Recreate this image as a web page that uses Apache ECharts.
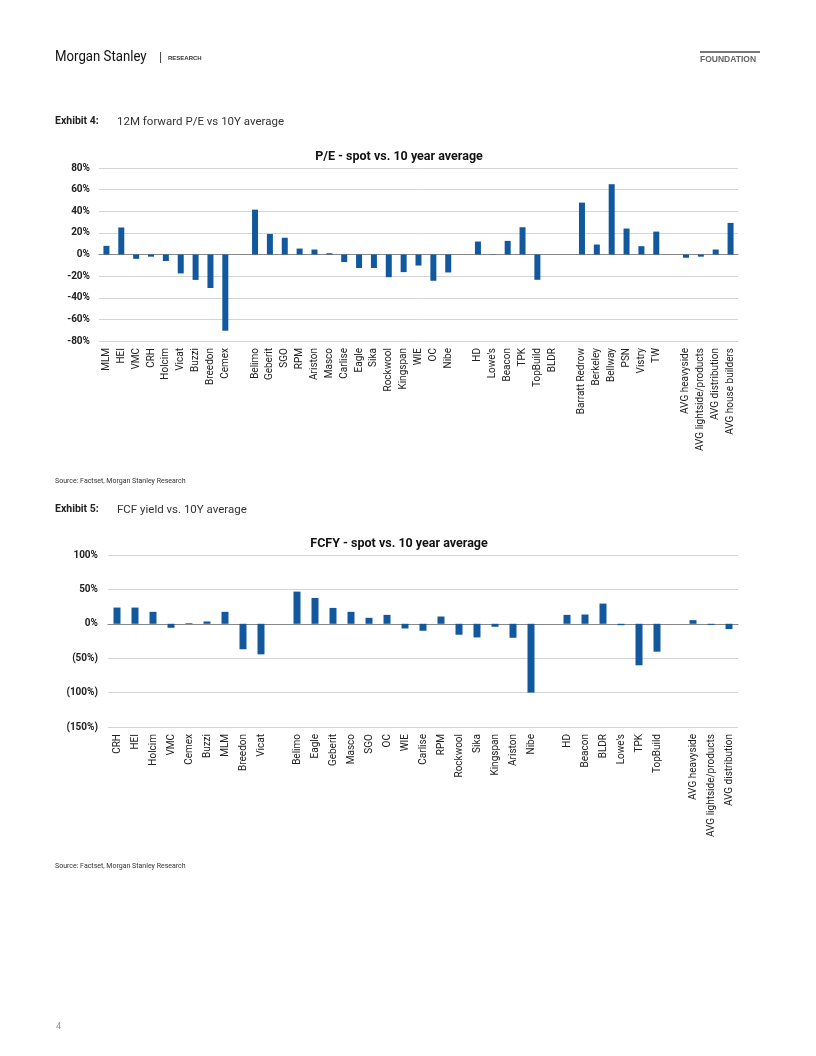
<!DOCTYPE html>
<html><head><meta charset="utf-8">
<script src="https://cdn.jsdelivr.net/npm/echarts@6/dist/echarts.min.js"></script>
<style>html,body{margin:0;padding:0;background:#fff}#c{width:816px;height:1056px}</style>
</head><body><div id="c"></div>
<script>
const peCategories = ['MLM','HEI','VMC','CRH','Holcim','Vicat','Buzzi','Breedon','Cemex',' ',
 'Belimo','Geberit','SGO','RPM','Ariston','Masco','Carlise','Eagle','Sika','Rockwool','Kingspan','WIE','OC','Nibe','  ',
 'HD',"Lowe's",'Beacon','TPK','TopBuild','BLDR','   ',
 'Barratt Redrow','Berkeley','Bellway','PSN','Vistry','TW','    ',
 'AVG heavyside','AVG lightside/products','AVG distribution','AVG house builders'];
const peValues = [8,25,-4,-2,-6,-17.5,-23.5,-31,-70.5,null,
 41.5,19,15.5,5.5,4.6,1.2,-7,-12.5,-12.5,-21,-16.3,-10.2,-24.3,-16.6,null,
 12,0.3,12.6,25.2,-23.4,0,null,
 48,9.2,65,24,7.7,21.2,null,
 -3,-2,4.6,29.2];
const peTicks = [-80,-60,-40,-20,0,20,40,60,80];

const fcfCategories = ['CRH','HEI','Holcim','VMC','Cemex','Buzzi','MLM','Breedon','Vicat',' ',
 'Belimo','Eagle','Geberit','Masco','SGO','OC','WIE','Carlise','RPM','Rockwool','Sika','Kingspan','Ariston','Nibe','  ',
 'HD','Beacon','BLDR',"Lowe's",'TPK','TopBuild','   ',
 'AVG heavyside','AVG lightside/products','AVG distribution'];
const fcfValues = [23.6,23.6,17.4,-5.8,1,3.4,17.4,-37,-44.4,null,
 46.8,37.6,23.1,17.4,8.7,13,-6.8,-10.1,10.6,-15.9,-19.8,-4.3,-20.3,-100,null,
 13,13.5,29.4,-2,-60.3,-40.5,null,
 5.3,-1.5,-7.7];
const fcfTicks = ['(150%)','(100%)','(50%)','0%','50%','100%'];

const FONT = '"Liberation Sans Narrow","Roboto","Liberation Sans",sans-serif';
const BLUE = '#12589f';

function fcfLabel(v){
  if (v < 0) return '(' + Math.abs(v) + '%)';
  return v + '%';
}

const chart = echarts.init(document.getElementById('c'), null, {renderer:'canvas'});
const txt = (x,y,t,style,extra)=>Object.assign({type:'text',x:x,y:y,style:Object.assign({text:t,fill:'#222',font:'10px '+FONT},style||{})},extra||{});

chart.setOption({
  animation:false,
  backgroundColor:'#fff',
  graphic:[
    txt(55,50,'Morgan Stanley',{font:'15px '+FONT,fill:'#111'},{scaleX:0.88}),
    txt(159,51,'|',{font:'13px '+FONT,fill:'#333'}),
    txt(168,55,'RESEARCH',{font:'bold 6px "Liberation Sans",sans-serif',fill:'#333'}),
    {type:'rect',shape:{x:700,y:51,width:60,height:2},style:{fill:'#777'}},
    txt(700,55,'FOUNDATION',{font:'bold 8.5px "Liberation Sans",sans-serif',fill:'#666'}),
    txt(55,116,'Exhibit 4:',{font:'bold 10.5px '+FONT,fill:'#222'}),
    txt(117,116,'12M forward P/E vs 10Y average',{font:'11.5px '+FONT,fill:'#333'}),
    txt(55,478,'Source: Factset, Morgan Stanley Research',{font:'7px '+FONT,fill:'#333'}),
    txt(55,504,'Exhibit 5:',{font:'bold 10.5px '+FONT,fill:'#222'}),
    txt(117,504,'FCF yield vs. 10Y average',{font:'11.5px '+FONT,fill:'#333'}),
    txt(55,863,'Source: Factset, Morgan Stanley Research',{font:'7px '+FONT,fill:'#333'}),
    txt(56,1022,'4',{font:'9px '+FONT,fill:'#999'})
  ],
  title:[
    {text:'P/E - spot vs. 10 year average',left:394,top:145,textAlign:'center',
     textStyle:{fontFamily:FONT,fontWeight:'bold',fontSize:12.5,color:'#111'}},
    {text:'FCFY - spot vs. 10 year average',left:394,top:532,textAlign:'center',
     textStyle:{fontFamily:FONT,fontWeight:'bold',fontSize:12.5,color:'#111'}}
  ],
  grid:[
    {left:99,width:639,top:168,height:173},
    {left:108,width:630,top:555,height:172}
  ],
  xAxis:[
    {type:'category',gridIndex:0,data:peCategories,position:'bottom',
     axisLine:{show:false},axisTick:{show:false},
     axisLabel:{rotate:90,interval:0,margin:7,fontFamily:FONT,fontSize:10,color:'#222'}},
    {type:'category',gridIndex:0,data:peCategories,position:'bottom',show:true,
     axisLine:{show:true,onZero:true,onZeroAxisIndex:0,lineStyle:{color:'#888',width:1.2}},
     axisTick:{show:false},axisLabel:{show:false}},
    {type:'category',gridIndex:1,data:fcfCategories,
     axisLine:{show:false},axisTick:{show:false},
     axisLabel:{rotate:90,interval:0,margin:7,fontFamily:FONT,fontSize:10,color:'#222'}},
    {type:'category',gridIndex:1,data:fcfCategories,show:true,
     axisLine:{show:true,onZero:true,onZeroAxisIndex:1,lineStyle:{color:'#888',width:1.2}},
     axisTick:{show:false},axisLabel:{show:false}}
  ],
  yAxis:[
    {type:'value',gridIndex:0,min:peTicks[0],max:peTicks[peTicks.length-1],interval:20,
     axisLine:{show:false},axisTick:{show:false},
     splitLine:{lineStyle:{color:'#d4d4d4',width:1}},
     axisLabel:{formatter:v=>v+'%',margin:9,fontFamily:FONT,fontSize:10,color:'#222',fontWeight:'bold'}},
    {type:'value',gridIndex:1,min:-150,max:100,interval:50,
     axisLine:{show:false},axisTick:{show:false},
     splitLine:{lineStyle:{color:'#d4d4d4',width:1}},
     axisLabel:{formatter:v=>fcfLabel(v),margin:10,fontFamily:FONT,fontSize:10,color:'#222',fontWeight:'bold'}}
  ],
  series:[
    {type:'bar',xAxisIndex:0,yAxisIndex:0,data:peValues,barWidth:6,itemStyle:{color:BLUE}},
    {type:'bar',xAxisIndex:2,yAxisIndex:1,data:fcfValues,barWidth:7,itemStyle:{color:BLUE}}
  ]
});
</script></body></html>
